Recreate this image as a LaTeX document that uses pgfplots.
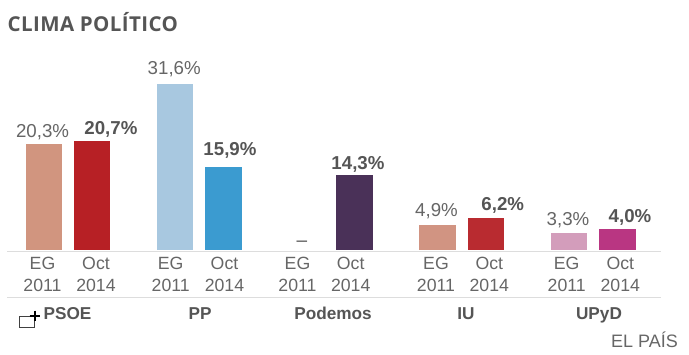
\documentclass[border=0pt]{standalone}
\usepackage{pgfplots}
\pgfplotsset{compat=1.18}
\usepackage{fontspec}
\setmainfont{Liberation Sans}
\newfontfamily\titlefont[LetterSpace=2]{Open Sans}
\definecolor{txt}{HTML}{666666}
\definecolor{bld}{HTML}{555555}
\definecolor{rul}{HTML}{DDDDDD}
\definecolor{ca}{HTML}{D1957F}
\definecolor{cb}{HTML}{B72025}
\definecolor{cc}{HTML}{A8C8E0}
\definecolor{cd}{HTML}{3B9BD0}
\definecolor{ce}{HTML}{4A3158}
\definecolor{cf}{HTML}{D19482}
\definecolor{cg}{HTML}{B92B30}
\definecolor{ch}{HTML}{D39DBB}
\definecolor{ci}{HTML}{B93682}
% #1 x centre, #2 value, #3 fill, #4 label font, #5 xshift, #6 yshift, #7 label colour
\newcommand{\onebar}[7]{%
  \addplot[ybar,bar width=36.5pt,bar shift=0pt,fill=#3,draw=none,
    nodes near coords={\pgfmathprintnumber[fixed,fixed zerofill,precision=1,use comma,assume math mode=true]{\pgfplotspointmeta}\%},
    every node near coord/.style={anchor=center,inner sep=0pt,font=\fontsize{18.7}{20}\selectfont #4,text=#7,xshift=#5pt,yshift=#6pt}]
    coordinates {(#1,#2)};}
\begin{document}
\begin{tikzpicture}
\begin{axis}[at={(0pt,0pt)},anchor=north west,width=689pt,height=354pt,scale only axis,
  hide axis,clip=false,xmin=0,xmax=689,ymin=-19.64,ymax=47.53,
  /pgf/number format/assume math mode=true]
\onebar{43.75}{20.3}{ca}{\mdseries}{-1.2}{11}{txt}
\onebar{91.75}{20.7}{cb}{\bfseries}{19.2}{12}{bld}
\onebar{174.75}{31.6}{cc}{\mdseries}{-0.5}{15}{txt}
\onebar{223.5}{15.9}{cd}{\bfseries}{6.5}{16}{bld}
\onebar{354.5}{14.3}{ce}{\bfseries}{3.5}{11}{bld}
\onebar{437.5}{4.9}{cf}{\mdseries}{-1}{13.7}{txt}
\onebar{485.75}{6.2}{cg}{\bfseries}{17}{12.8}{bld}
\onebar{569}{3.3}{ch}{\mdseries}{-1}{12.8}{txt}
\onebar{617.5}{4.0}{ci}{\bfseries}{12.5}{12.4}{bld}
\end{axis}
\begin{scope}[x=1pt,y=-1pt]
\path (0,0) rectangle (689,354);
\draw[rul,line width=1pt] (7,251)--(661,251);
\draw[rul,line width=1pt] (7,297)--(661,297);
\node[anchor=west,inner sep=0pt,text=bld] at (7.5,22) {\titlefont\bfseries\fontsize{20.5}{22}\selectfont CLIMA POLÍTICO};
\foreach \x/\t/\u in {42.5/EG/2011,96/Oct/2014,170.7/EG/2011,224.5/Oct/2014,297.5/EG/2011,350.7/Oct/2014,436/EG/2011,489.3/Oct/2014,566.7/EG/2011,620.3/Oct/2014}{
  \node[anchor=base,inner sep=0pt,text=txt,font=\fontsize{17.7}{20}\selectfont] at (\x,269) {\t};
  \node[anchor=base,inner sep=0pt,text=txt,font=\fontsize{17.7}{20}\selectfont] at (\x,291) {\u};
}
\foreach \x/\t in {67.5/PSOE,200/PP,333/Podemos,466/IU,599/UPyD}{
  \node[anchor=base,inner sep=0pt,text=bld,font=\bfseries\fontsize{17.2}{20}\selectfont] at (\x,319.5) {\t};
}
\node[anchor=east,inner sep=0pt,text=txt,font=\fontsize{18}{20}\selectfont] at (678,340) {EL PAÍS};
\node[inner sep=0pt,text=bld,font=\fontsize{19}{20}\selectfont] at (302,244) {–};
\draw[black!75,line width=1pt] (31,316.5)--(19.5,316.5)--(19.5,327)--(34.5,327)--(34.5,321);
\draw[black,line width=2pt] (29.5,315.5)--(40,315.5) (34.7,310.5)--(34.7,320.5);
\end{scope}
\end{tikzpicture}
\end{document}
